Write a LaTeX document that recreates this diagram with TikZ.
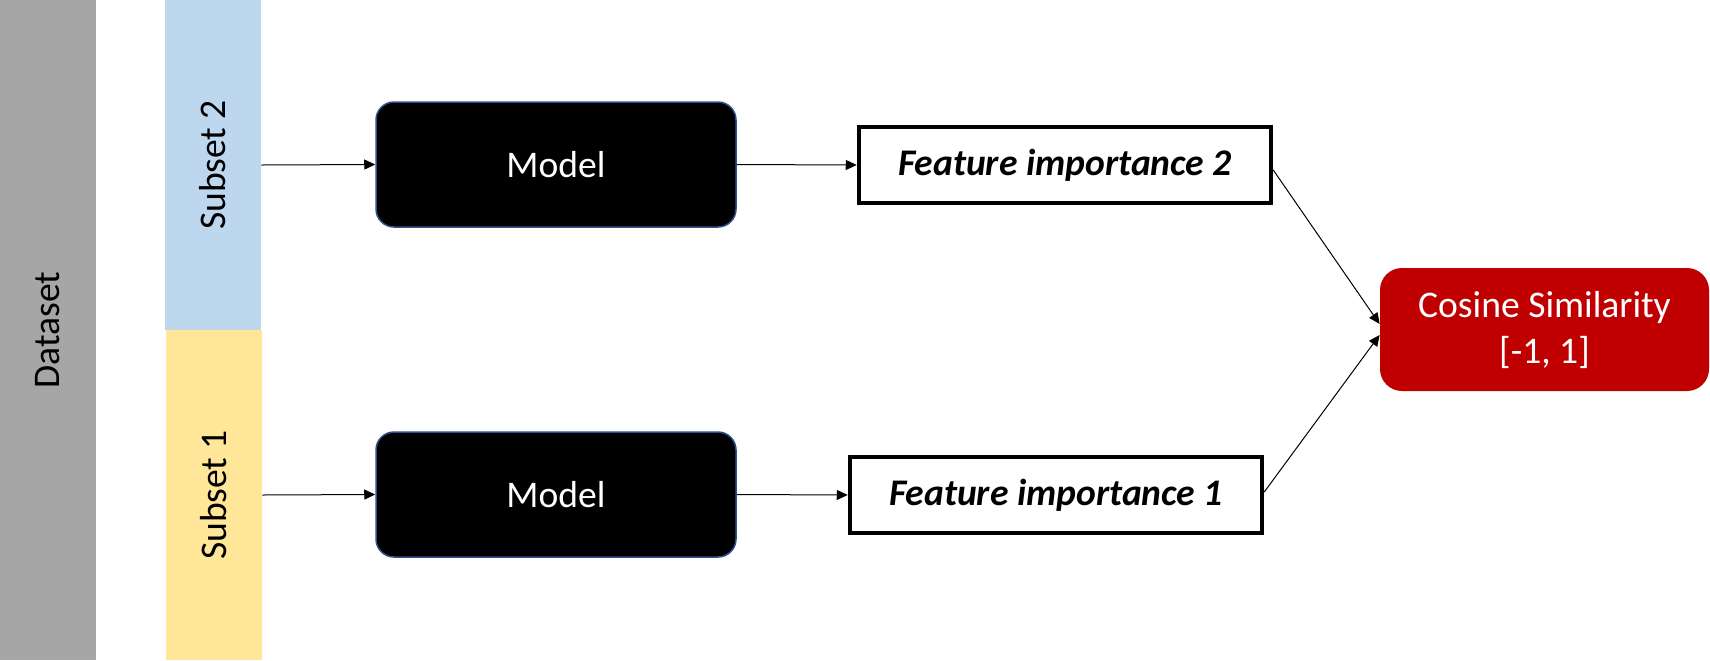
\documentclass[tikz,border=0pt]{standalone}
\usepackage{fontspec}
\setmainfont{Carlito}
\usetikzlibrary{arrows.meta}
\definecolor{dsgray}{HTML}{A6A6A6}
\definecolor{subblue}{HTML}{BDD7EE}
\definecolor{subyellow}{HTML}{FFE699}
\definecolor{modelborder}{HTML}{2F528F}
\definecolor{cosred}{HTML}{C00000}
\begin{document}
\begin{tikzpicture}[x=0.5pt,y=-0.5pt,
  every node/.style={font=\fontsize{18.8}{23}\selectfont, inner sep=0pt},
  modelbox/.style={fill=black, draw=modelborder, line width=0.75pt, rounded corners=9pt,
     minimum width=180pt, minimum height=62.5pt, text=white},
  fibox/.style={draw=black, line width=2.25pt, fill=white, minimum width=206pt,
     minimum height=38pt, font=\fontsize{18.8}{23}\selectfont\bfseries\itshape},
  cosbox/.style={fill=cosred, rounded corners=11pt, minimum width=164.5pt,
     minimum height=61.5pt, text=white, align=center},
  conn/.style={line width=0.5pt, -{Triangle[length=5.5pt,width=5pt]}}
]
\useasboundingbox (0,0) rectangle (1710,660);
% bars
\node[fill=dsgray, minimum width=330pt, minimum height=48pt, rotate=90] (ds) at (48,330) {Dataset};
\node[fill=subblue, minimum width=165pt, minimum height=48pt, rotate=90] (s2) at (213,165) {Subset 2};
\node[fill=subyellow, minimum width=165pt, minimum height=48pt, rotate=90] (s1) at (214,495) {Subset 1};
% models
\node[modelbox] (m2) at (556,164.5) {Model};
\node[modelbox] (m1) at (556,494.5) {Model};
% feature importance
\node[fibox] (fi2) at (1065,165) {Feature importance 2};
\node[fibox] (fi1) at (1056,495) {Feature importance 1};
% cosine
\node[cosbox] (cos) at (1544.5,329.5) {Cosine Similarity\\{[-1, 1]}};
% connectors
\draw[conn] (s2.south) -- (m2.west);
\draw[conn] (s1.south) -- (m1.west);
\draw[conn] (m2.east) -- (fi2.west);
\draw[conn] (m1.east) -- (fi1.west);
\draw[conn] ([yshift=-2.5pt]fi2.east) -- ([yshift=2.75pt]cos.west);
\draw[conn] ([yshift=1.5pt]fi1.east) -- ([yshift=-2.75pt]cos.west);
\end{tikzpicture}
\end{document}
